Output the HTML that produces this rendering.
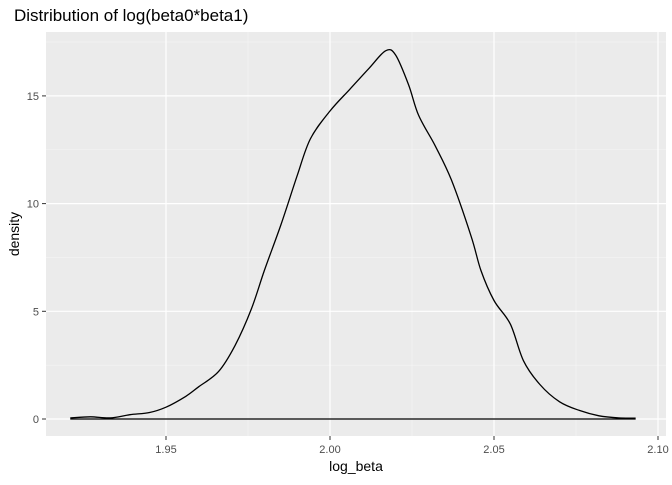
<!DOCTYPE html>
<html><head><meta charset="utf-8"><style>
body{margin:0;background:#fff;}
svg text{font-family:"Liberation Sans",sans-serif;}
</style></head><body>
<svg id="chart" width="672" height="480">
<text x="14" y="21" font-size="17" fill="#000">Distribution of log(beta0*beta1)</text>
<rect x="46" y="32" width="620" height="404" fill="#ebebeb"/>
<g id="grid"></g>
<path id="curve" fill="none" stroke="#000" stroke-width="1.3"/>
<g id="axes"></g>
<text x="356" y="471" font-size="14" text-anchor="middle" fill="#000">log_beta</text>
<text transform="translate(19,234) rotate(-90)" font-size="14" text-anchor="middle" fill="#000">density</text>
</svg>
<script>
const xVals=[1.921,1.927,1.933,1.939,1.945,1.950,1.956,1.960,1.966,1.971,1.976,1.980,1.985,1.990,1.994,2.000,2.006,2.012,2.017,2.020,2.024,2.027,2.032,2.037,2.043,2.046,2.050,2.055,2.059,2.064,2.070,2.076,2.082,2.088,2.093];
const densVals=[0.05,0.1,0.05,0.2,0.3,0.55,1.05,1.5,2.2,3.4,5.1,6.9,9.0,11.3,13.0,14.3,15.3,16.3,17.1,16.9,15.5,14.1,12.7,11.1,8.5,6.9,5.5,4.4,2.7,1.6,0.8,0.4,0.15,0.05,0.04];
const xTicks=[1.95,2.00,2.05,2.10];
const xTickLabels=["1.95","2.00","2.05","2.10"];
const yTicks=[0,5,10,15];
const yTickLabels=["0","5","10","15"];
const ns="http://www.w3.org/2000/svg";
const xs=v=>166+(v-1.95)/0.05*164;
const ys=v=>419-v*21.54;
const grid=document.getElementById('grid'),axes=document.getElementById('axes');
function mk(tag,attrs,parent){const e=document.createElementNS(ns,tag);for(const k in attrs)e.setAttribute(k,attrs[k]);parent.appendChild(e);return e;}
for(let i=0;i<xTicks.length-1;i++){const m=(xTicks[i]+xTicks[i+1])/2;
const g=mk('line',{x1:xs(m),x2:xs(m),y1:32,y2:436,stroke:'#f5f5f5','stroke-width':0.6},grid);

}
for(let i=0;i<yTicks.length;i++){const m=yTicks[i]+2.5;if(ys(m)<32)continue;
const g=mk('line',{x1:46,x2:666,y1:ys(m),y2:ys(m),stroke:'#f5f5f5','stroke-width':0.6},grid);

}
xTicks.forEach((t,i)=>{const g=mk('line',{x1:xs(t),x2:xs(t),y1:32,y2:436,stroke:'#fff','stroke-width':1.2},grid);


mk('line',{x1:xs(t),x2:xs(t),y1:436,y2:440,stroke:'#333'},axes);
const tx=mk('text',{x:xs(t),y:453,'font-size':11,'text-anchor':'middle',fill:'#4d4d4d'},axes);tx.textContent=xTickLabels[i];

});
yTicks.forEach((t,i)=>{const g=mk('line',{x1:46,x2:666,y1:ys(t),y2:ys(t),stroke:'#fff','stroke-width':1.2},grid);


mk('line',{x1:42,x2:46,y1:ys(t),y2:ys(t),stroke:'#333'},axes);
const tx=mk('text',{x:39,y:ys(t)+4,'font-size':11,'text-anchor':'end',fill:'#4d4d4d'},axes);tx.textContent=yTickLabels[i];

});
const P=xVals.map((x,i)=>[xs(x),ys(densVals[i])]);
let d='M'+P[0][0].toFixed(1)+','+P[0][1].toFixed(1);
for(let i=0;i<P.length-1;i++){const p0=P[Math.max(i-1,0)],p1=P[i],p2=P[i+1],p3=P[Math.min(i+2,P.length-1)];
const c1=[p1[0]+(p2[0]-p0[0])/6,p1[1]+(p2[1]-p0[1])/6],c2=[p2[0]-(p3[0]-p1[0])/6,p2[1]-(p3[1]-p1[1])/6];
d+='C'+c1.map(v=>v.toFixed(1)).join(',')+' '+c2.map(v=>v.toFixed(1)).join(',')+' '+p2.map(v=>v.toFixed(1)).join(',');}
d+='L'+P[P.length-1][0].toFixed(1)+','+ys(0)+'L'+P[0][0].toFixed(1)+','+ys(0)+'Z';
document.getElementById('curve').setAttribute('d',d);
</script>
</body></html>
